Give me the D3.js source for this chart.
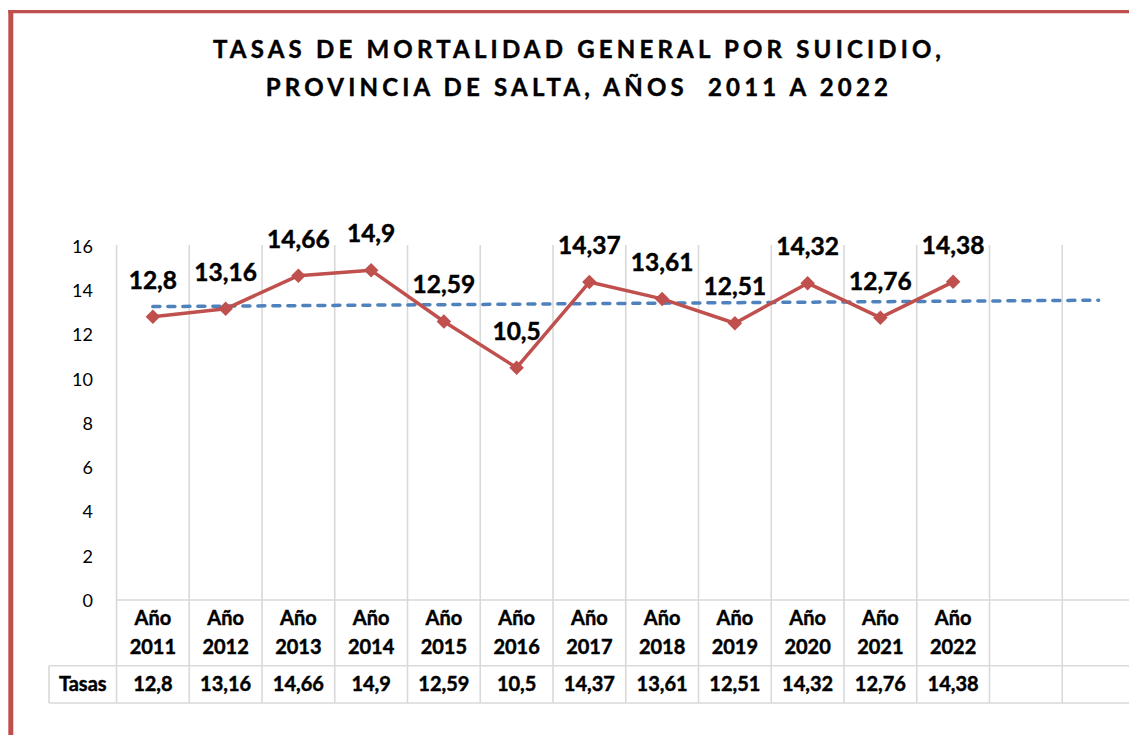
<!DOCTYPE html>
<html><head><meta charset="utf-8">
<script src="https://cdn.jsdelivr.net/npm/d3@7"></script>
<style>
html,body{margin:0;padding:0;background:#fff;}
svg{display:block;}
text{font-family:Lato,"Open Sans",sans-serif;}
.b{font-weight:bold;stroke:#000;stroke-width:0.45px;}
</style></head>
<body>
<script>
const titleLines = ["TASAS DE MORTALIDAD GENERAL POR SUICIDIO,", "PROVINCIA DE SALTA, AÑOS  2011 A 2022"];
const years = ["2011","2012","2013","2014","2015","2016","2017","2018","2019","2020","2021","2022","",""];
const values = [12.8,13.16,14.66,14.9,12.59,10.5,14.37,13.61,12.51,14.32,12.76,14.38];
const yTicks = [0,2,4,6,8,10,12,14,16];
const rowLabel = "Tasas";
const trendEnds = [13.26, 13.55]; // trend line read at first and last category

const W = 1129, H = 735;
const svg = d3.select("body").append("svg").attr("width", W).attr("height", H);

const cats = years.map((y,i)=> "c"+i);
const x = d3.scaleBand().domain(cats).range([116.5, 116.5 + 72.75*cats.length]).padding(0);
const y = d3.scaleLinear().domain([0,16]).range([600, 246]);

const gridC = "#d9d9d9";
const tableTop = 600, rowLine = 665.7, tableBottom = 703, tableLeft = 49;

// frame
svg.append("line").attr("x1",10.8).attr("x2",10.8).attr("y1",10).attr("y2",H)
  .attr("stroke","#c0504d").attr("stroke-width",5);
svg.append("line").attr("x1",8.3).attr("x2",W).attr("y1",11.6).attr("y2",11.6)
  .attr("stroke","#c0504d").attr("stroke-width",3.3);

// title
const title = svg.append("g");
titleLines.forEach((t,i)=>{
  title.append("text").attr("class","b").attr("x",579).attr("y",58.3 + i*37.7)
    .attr("text-anchor","middle").attr("font-size",24)
    .attr("letter-spacing","4.2px").attr("fill","#000").attr("xml:space","preserve").text(t);
});

// vertical gridlines
const bounds = cats.map(c=>x(c)).concat([x(cats[cats.length-1])+x.bandwidth()]);
svg.append("g").selectAll("line").data(bounds).join("line")
  .attr("x1",d=>d).attr("x2",d=>d).attr("y1",245).attr("y2",tableBottom)
  .attr("stroke",gridC).attr("stroke-width",1.6);
// table horizontal lines
svg.append("line").attr("x1",bounds[0]).attr("x2",W).attr("y1",tableTop).attr("y2",tableTop).attr("stroke",gridC).attr("stroke-width",1.6);
svg.append("line").attr("x1",tableLeft).attr("x2",W).attr("y1",rowLine).attr("y2",rowLine).attr("stroke",gridC).attr("stroke-width",1.6);
svg.append("line").attr("x1",tableLeft).attr("x2",W).attr("y1",tableBottom).attr("y2",tableBottom).attr("stroke",gridC).attr("stroke-width",1.6);
svg.append("line").attr("x1",tableLeft).attr("x2",tableLeft).attr("y1",rowLine).attr("y2",tableBottom).attr("stroke",gridC).attr("stroke-width",1.6);

// y axis
const yAxis = d3.axisLeft(y).tickValues(yTicks).tickSize(0).tickPadding(0).tickFormat(d3.format("d"));
const ya = svg.append("g").attr("transform","translate(93,0)").call(yAxis);
ya.select(".domain").remove();
ya.selectAll("text").attr("font-size",18).attr("fill","#000").attr("font-family","Lato").attr("dy","0.36em");

// table header
const hdr = svg.append("g");
const tfs = 20;
years.forEach((yr,i)=>{
  if(!yr) return;
  const cx = x(cats[i]) + x.bandwidth()/2;
  hdr.append("text").attr("class","b").attr("x",cx).attr("y",625).attr("text-anchor","middle")
    .attr("font-size",tfs).text("Año");
  hdr.append("text").attr("class","b").attr("x",cx).attr("y",654.3).attr("text-anchor","middle")
    .attr("font-size",tfs).text(yr);
});
hdr.append("text").attr("class","b").attr("x",(tableLeft+bounds[0])/2).attr("y",690.7).attr("text-anchor","middle")
  .attr("font-size",tfs).text(rowLabel);
const fmt = v => String(v).replace(".", ",");
values.forEach((v,i)=>{
  hdr.append("text").attr("class","b").attr("x",x(cats[i]) + x.bandwidth()/2).attr("y",690.7).attr("text-anchor","middle")
    .attr("font-size",tfs).text(fmt(v));
});

// trend line
const cx = i => x(cats[i]) + x.bandwidth()/2;
svg.append("line").attr("x1",cx(0)).attr("x2",cx(cats.length-1))
  .attr("y1",y(trendEnds[0])).attr("y2",y(trendEnds[1]))
  .attr("stroke","#4f81bd").attr("stroke-width",3.5).attr("stroke-dasharray","7,8").attr("stroke-linecap","round");

// series line
const line = d3.line().x((d,i)=>cx(i)).y(d=>y(d));
svg.append("path").datum(values).attr("d",line).attr("fill","none")
  .attr("stroke","#c0504d").attr("stroke-width",3.5).attr("stroke-linejoin","round");

// markers
svg.append("g").selectAll("path").data(values).join("path")
  .attr("d", d3.symbol().type(d3.symbolSquare).size(105))
  .attr("transform",(d,i)=>`translate(${cx(i)},${y(d)}) rotate(45)`)
  .attr("fill","#c0504d");

// data labels
svg.append("g").selectAll("text").data(values).join("text").attr("class","b")
  .attr("x",(d,i)=>cx(i)).attr("y",d=>y(d)-28)
  .attr("text-anchor","middle").attr("font-size",24.5).attr("fill","#000")
  .text(d=>fmt(d));
</script>
</body></html>
